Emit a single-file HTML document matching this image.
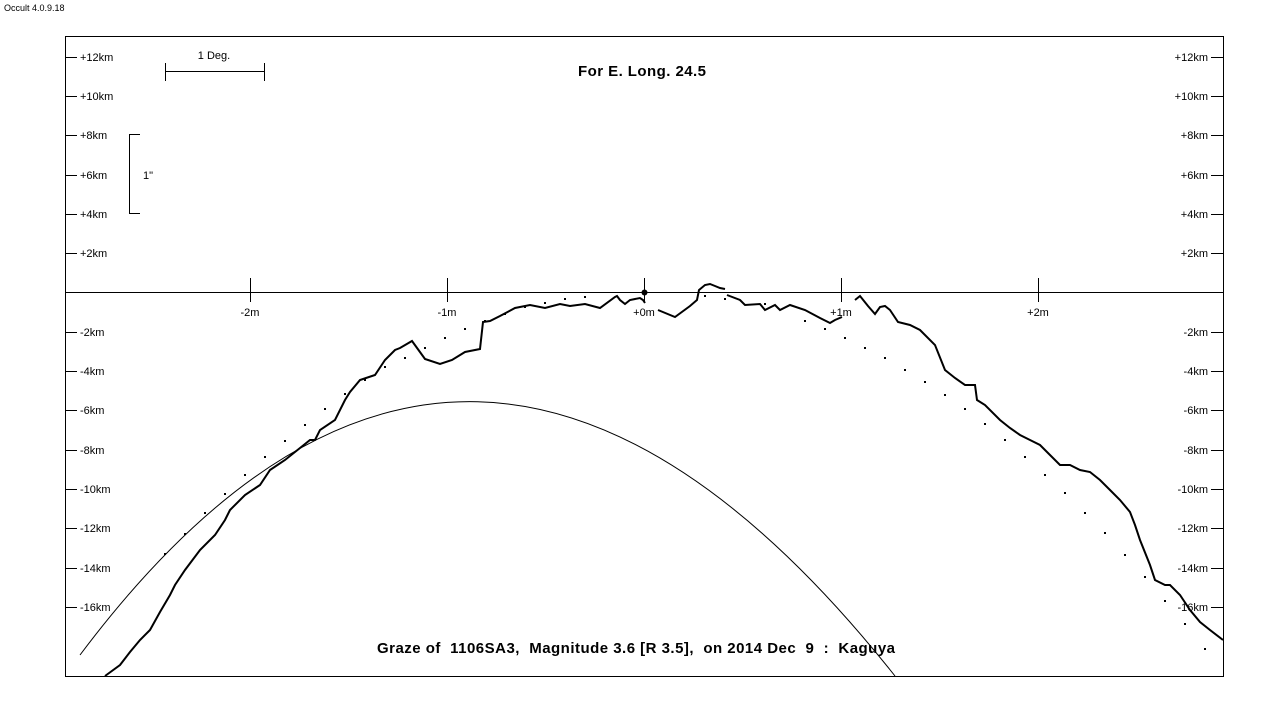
<!DOCTYPE html>
<html><head><meta charset="utf-8"><style>
body{margin:0;background:#fff;width:1288px;height:712px;overflow:hidden}
svg{display:block}
text{font-family:"Liberation Sans",sans-serif;font-size:11px;fill:#000;white-space:pre}
</style></head><body>
<svg width="1288" height="712" viewBox="0 0 1288 712">
<text x="4" y="11" font-size="9" style="font-size:9px">Occult 4.0.9.18</text>
<rect x="65.5" y="36.5" width="1158" height="640" fill="none" stroke="#000"/>
<line x1="65" y1="292.5" x2="1223" y2="292.5" stroke="#000"/>
<g stroke="#000">
<line x1="65" y1="57.5" x2="77" y2="57.5"/><line x1="65" y1="96.5" x2="77" y2="96.5"/><line x1="65" y1="135.5" x2="77" y2="135.5"/><line x1="65" y1="175.5" x2="77" y2="175.5"/><line x1="65" y1="214.5" x2="77" y2="214.5"/><line x1="65" y1="253.5" x2="77" y2="253.5"/><line x1="65" y1="332.5" x2="77" y2="332.5"/><line x1="65" y1="371.5" x2="77" y2="371.5"/><line x1="65" y1="410.5" x2="77" y2="410.5"/><line x1="65" y1="450.5" x2="77" y2="450.5"/><line x1="65" y1="489.5" x2="77" y2="489.5"/><line x1="65" y1="528.5" x2="77" y2="528.5"/><line x1="65" y1="568.5" x2="77" y2="568.5"/><line x1="65" y1="607.5" x2="77" y2="607.5"/>
<line x1="1211" y1="57.5" x2="1223" y2="57.5"/><line x1="1211" y1="96.5" x2="1223" y2="96.5"/><line x1="1211" y1="135.5" x2="1223" y2="135.5"/><line x1="1211" y1="175.5" x2="1223" y2="175.5"/><line x1="1211" y1="214.5" x2="1223" y2="214.5"/><line x1="1211" y1="253.5" x2="1223" y2="253.5"/><line x1="1211" y1="332.5" x2="1223" y2="332.5"/><line x1="1211" y1="371.5" x2="1223" y2="371.5"/><line x1="1211" y1="410.5" x2="1223" y2="410.5"/><line x1="1211" y1="450.5" x2="1223" y2="450.5"/><line x1="1211" y1="489.5" x2="1223" y2="489.5"/><line x1="1211" y1="528.5" x2="1223" y2="528.5"/><line x1="1211" y1="568.5" x2="1223" y2="568.5"/><line x1="1211" y1="607.5" x2="1223" y2="607.5"/>
<line x1="250.5" y1="278" x2="250.5" y2="302"/><line x1="447.5" y1="278" x2="447.5" y2="302"/><line x1="644.5" y1="278" x2="644.5" y2="302"/><line x1="841.5" y1="278" x2="841.5" y2="302"/><line x1="1038.5" y1="278" x2="1038.5" y2="302"/>
<line x1="165" y1="71.5" x2="265" y2="71.5"/><line x1="165.5" y1="63" x2="165.5" y2="81"/><line x1="264.5" y1="63" x2="264.5" y2="81"/>
<line x1="129.5" y1="134" x2="129.5" y2="214"/><line x1="129" y1="134.5" x2="140" y2="134.5"/><line x1="129" y1="213.5" x2="140" y2="213.5"/>
</g>
<g>
<text x="80" y="61">+12km</text><text x="80" y="100">+10km</text><text x="80" y="139">+8km</text><text x="80" y="179">+6km</text><text x="80" y="218">+4km</text><text x="80" y="257">+2km</text>
<text x="80" y="336">-2km</text><text x="80" y="375">-4km</text><text x="80" y="414">-6km</text><text x="80" y="454">-8km</text><text x="80" y="493">-10km</text><text x="80" y="532">-12km</text><text x="80" y="572">-14km</text><text x="80" y="611">-16km</text>
<g text-anchor="end">
<text x="1208" y="61">+12km</text><text x="1208" y="100">+10km</text><text x="1208" y="139">+8km</text><text x="1208" y="179">+6km</text><text x="1208" y="218">+4km</text><text x="1208" y="257">+2km</text>
<text x="1208" y="336">-2km</text><text x="1208" y="375">-4km</text><text x="1208" y="414">-6km</text><text x="1208" y="454">-8km</text><text x="1208" y="493">-10km</text><text x="1208" y="532">-12km</text><text x="1208" y="572">-14km</text><text x="1208" y="611">-16km</text>
</g>
<text x="250" y="316" text-anchor="middle">-2m</text><text x="447" y="316" text-anchor="middle">-1m</text><text x="644" y="316" text-anchor="middle">+0m</text><text x="841" y="316" text-anchor="middle">+1m</text><text x="1038" y="316" text-anchor="middle">+2m</text>
<text x="214" y="59" text-anchor="middle">1 Deg.</text><text x="143" y="179">1"</text>
<text x="578" y="76" style="font-size:15px;font-weight:bold" textLength="128" lengthAdjust="spacing">For E. Long. 24.5</text>
<text x="377" y="653" style="font-size:15px;font-weight:bold" textLength="518" lengthAdjust="spacing">Graze of  1106SA3,  Magnitude 3.6 [R 3.5],  on 2014 Dec  9  :  Kaguya</text>
</g>
<circle cx="644.5" cy="292.5" r="3" fill="#000"/>
<path d="M80,655 Q468,138 895,676" fill="none" stroke="#000" stroke-width="1"/>
<polyline fill="none" stroke="#000" stroke-width="2" points="105,676 120,665 130,652 140,640 150,630 160,612 170,595 175,585 185,570 200,550 215,535 225,520 230,510 245,495 260,485 270,470 285,460 300,448 310,440 315,440 320,430 335,420 345,400 350,392 360,380 375,375 385,360 395,350 400,348 412,341 425,359 440,364 452,360 465,352 480,349 483,322 490,321 500,316 515,308 520,307 530,305 545,308 560,304 570,306 585,304 600,308 615,297 617,296 620,300 625,304 630,300 640,298 643,300 645,303"/>
<polyline fill="none" stroke="#000" stroke-width="2" points="658,310 675,317 690,306 697,300 699,290 705,285 710,284 715,286 720,288 725,289"/>
<polyline fill="none" stroke="#000" stroke-width="2" points="727,295 740,300 745,305 760,304 765,310 775,305 780,310 790,305 805,310 820,318 830,323 835,320 842,317"/>
<polyline fill="none" stroke="#000" stroke-width="2" points="855,300 860,296 868,306 875,314 880,307 885,306 890,310 898,322 910,325 920,330 935,345 945,370 955,378 965,385 975,385 977,400 985,405 1000,420 1010,428 1020,435 1030,440 1040,445 1050,455 1060,465 1070,465 1080,470 1090,472 1100,480 1110,490 1120,500 1130,512 1135,525 1140,540 1150,565 1155,580 1165,585 1170,585 1180,595 1190,610 1200,622 1210,630 1223,640"/>
<g fill="#000">
<rect x="164" y="553" width="2" height="2"/><rect x="184" y="533" width="2" height="2"/><rect x="204" y="512" width="2" height="2"/><rect x="224" y="493" width="2" height="2"/><rect x="244" y="474" width="2" height="2"/><rect x="264" y="456" width="2" height="2"/><rect x="284" y="440" width="2" height="2"/><rect x="304" y="424" width="2" height="2"/><rect x="324" y="408" width="2" height="2"/><rect x="344" y="393" width="2" height="2"/><rect x="364" y="379" width="2" height="2"/><rect x="384" y="366" width="2" height="2"/><rect x="404" y="357" width="2" height="2"/><rect x="424" y="347" width="2" height="2"/><rect x="444" y="337" width="2" height="2"/><rect x="464" y="328" width="2" height="2"/><rect x="484" y="320" width="2" height="2"/><rect x="504" y="313" width="2" height="2"/><rect x="524" y="306" width="2" height="2"/><rect x="544" y="302" width="2" height="2"/><rect x="564" y="298" width="2" height="2"/><rect x="584" y="296" width="2" height="2"/><rect x="704" y="295" width="2" height="2"/><rect x="724" y="298" width="2" height="2"/><rect x="764" y="303" width="2" height="2"/><rect x="804" y="320" width="2" height="2"/><rect x="824" y="328" width="2" height="2"/><rect x="844" y="337" width="2" height="2"/><rect x="864" y="347" width="2" height="2"/><rect x="884" y="357" width="2" height="2"/><rect x="904" y="369" width="2" height="2"/><rect x="924" y="381" width="2" height="2"/><rect x="944" y="394" width="2" height="2"/><rect x="964" y="408" width="2" height="2"/><rect x="984" y="423" width="2" height="2"/><rect x="1004" y="439" width="2" height="2"/><rect x="1024" y="456" width="2" height="2"/><rect x="1044" y="474" width="2" height="2"/><rect x="1064" y="492" width="2" height="2"/><rect x="1084" y="512" width="2" height="2"/><rect x="1104" y="532" width="2" height="2"/><rect x="1124" y="554" width="2" height="2"/><rect x="1144" y="576" width="2" height="2"/><rect x="1164" y="600" width="2" height="2"/><rect x="1184" y="623" width="2" height="2"/><rect x="1204" y="648" width="2" height="2"/>
</g>
</svg>
</body></html>
